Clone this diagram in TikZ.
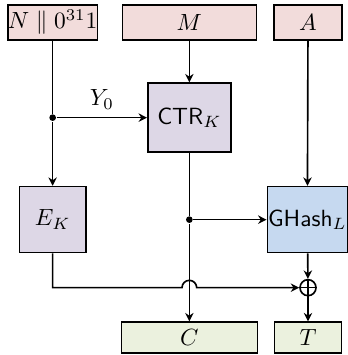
\documentclass[tikz,border=0pt]{standalone}
\usepackage{amsmath,amssymb}
\usepackage{tikz}
\usetikzlibrary{arrows.meta,positioning,calc}
\definecolor{InPink}{HTML}{F2DCDB}
\definecolor{EncLav}{HTML}{DDD7E6}
\definecolor{HashBlue}{HTML}{C6D9F0}
\definecolor{OutGreen}{HTML}{EBF1DE}

\begin{document}
\begin{tikzpicture}[
  line width=0.7pt,
  blk/.style={rectangle,draw,inner sep=0pt,font=\normalsize},
  inbox/.style={blk,fill=InPink,minimum height=0.525cm},
  encbox/.style={blk,fill=EncLav},
  hashbox/.style={blk,fill=HashBlue},
  outbox/.style={blk,fill=OutGreen,minimum height=0.465cm},
  arr/.style={-{Stealth[length=3.6pt,width=3.6pt]}},
  dot/.style={circle,fill,inner sep=0pt,minimum size=0.1cm}
]
  \useasboundingbox (0,0) rectangle (5.205,5.325);
  % inputs
  \node[inbox,minimum width=1.275cm] (nonce) at (0.79,4.99) {$N\parallel 0^{31}1$};
  \node[inbox,minimum width=2.01cm]  (msg)   at (2.84,4.99) {$M$};
  \node[inbox,minimum width=1.02cm]  (ad)    at (4.62,4.99) {$A$};

  % blocks
  \node[encbox,minimum width=1.245cm,minimum height=1.035cm] (ctr) at (2.84,3.56) {$\textsf{CTR}_K$};
  \node[encbox,minimum width=1.0cm,minimum height=0.99cm]    (ek)  at (0.79,2.03) {$E_K$};
  \node[hashbox,minimum width=1.2cm,minimum height=0.99cm]   (gh)  at (4.61,2.03) {$\textsf{GHash}_L$};
  \node[circle,draw,inner sep=0pt,minimum size=0.24cm] (xor) at (4.62,1.01) {};
  \draw (xor.north) -- (xor.south) (xor.west) -- (xor.east);

  % outputs
  \node[outbox,minimum width=2.04cm] (ct)  at (2.84,0.26) {$C$};
  \node[outbox,minimum width=1.0cm]  (tag) at (4.62,0.26) {$T$};

  \node[dot] (j1) at (0.79,3.56) {};
  \node[dot] (j2) at (2.84,2.03) {};
  \coordinate (hop) at (2.84,1.01);

  \draw (nonce) -- (j1);
  \draw[arr] (j1) -- node[above] {$Y_0$} (ctr);
  \draw[arr] (j1) -- (ek);
  \draw[arr] (msg) -- (ctr);
  \draw[arr] (ad) -- (gh);
  \draw (ctr) -- (j2);
  \draw[arr] (j2) -- (gh);
  \draw[arr] (j2) -- (ct);
  \draw[arr] (gh) -- (xor);
  \draw[arr] (xor) -- (tag);
  \draw[arr] (ek.south) |- ($(hop)+(-0.11,0)$) arc (180:0:0.11) -- (xor);
\end{tikzpicture}
\end{document}
